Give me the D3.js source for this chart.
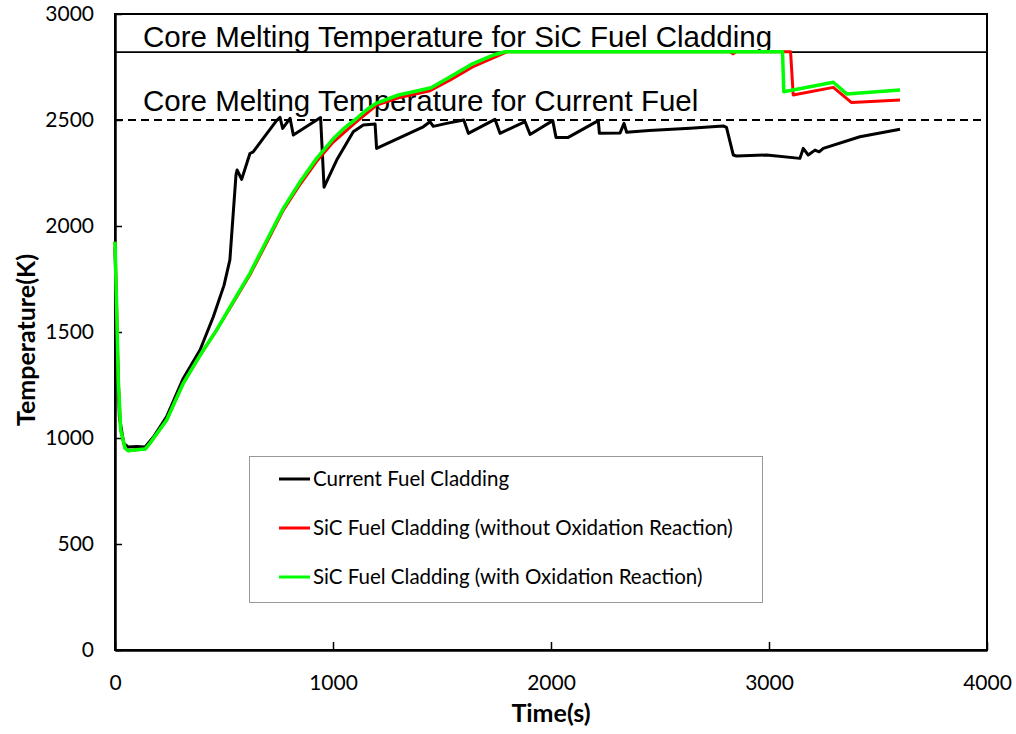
<!DOCTYPE html>
<html>
<head>
<meta charset="utf-8">
<style>
  body { margin: 0; background: #fff; }
  svg { display: block; }
  .tick text { font-family: Lato, "Open Sans", sans-serif; font-size: 21px; fill: #000; }
  .axis-title { font-family: Lato, "Open Sans", sans-serif; font-size: 25px; font-weight: bold; }
  .note { font-family: "Liberation Sans", Arial, sans-serif; font-size: 29.5px; }
  .legend text { font-family: Lato, "Open Sans", sans-serif; font-size: 20.5px; }
  .line { fill: none; stroke-linejoin: round; }
</style>
</head>
<body>
<script src="https://cdn.jsdelivr.net/npm/d3@7"></script>
<script>
// data
var currentTime = [0, 8, 20, 40, 60, 100, 138, 180, 237, 313, 390, 451, 500, 527, 555, 560, 581, 619, 634, 680, 741, 757, 769, 803, 818, 943, 959, 1017, 1093, 1139, 1193, 1200, 1414, 1445, 1460, 1521, 1600, 1621, 1743, 1766, 1881, 1904, 2008, 2023, 2079, 2217, 2222, 2317, 2335, 2347, 2450, 2638, 2790, 2805, 2836, 2851, 2989, 3142, 3157, 3180, 3211, 3230, 3249, 3417, 3601];
var currentTemp = [1900, 1500, 1100, 975, 958, 960, 958, 1010, 1101, 1281, 1415, 1572, 1720, 1840, 2241, 2264, 2220, 2342, 2350, 2413, 2497, 2512, 2460, 2508, 2429, 2512, 2183, 2311, 2445, 2476, 2481, 2366, 2468, 2492, 2470, 2484, 2500, 2437, 2503, 2437, 2492, 2432, 2497, 2418, 2418, 2497, 2437, 2439, 2484, 2442, 2450, 2461, 2472, 2465, 2335, 2330, 2335, 2319, 2366, 2335, 2358, 2350, 2366, 2421, 2456];

var noOxTime = [0, 8, 15, 26, 46, 60, 100, 138, 160, 237, 313, 390, 466, 540, 619, 700, 772, 850, 925, 1000, 1100, 1200, 1300, 1445, 1540, 1640, 1740, 1800, 2820, 2835, 2850, 3099, 3111, 3295, 3379, 3601];
var noOxTemp = [1926, 1600, 1274, 1038, 953, 940, 945, 948, 975, 1085, 1258, 1390, 1509, 1635, 1770, 1930, 2075, 2198, 2305, 2395, 2485, 2570, 2605, 2638, 2690, 2750, 2795, 2822, 2822, 2812, 2822, 2822, 2618, 2654, 2582, 2594];

var oxTime = [0, 8, 15, 26, 46, 60, 100, 138, 160, 237, 313, 390, 466, 540, 619, 700, 772, 850, 925, 1000, 1050, 1100, 1150, 1200, 1300, 1400, 1450, 1540, 1640, 1740, 1790, 3062, 3068, 3295, 3356, 3601];
var oxTemp = [1926, 1600, 1274, 1038, 953, 940, 945, 948, 975, 1085, 1258, 1390, 1509, 1640, 1777, 1940, 2083, 2210, 2319, 2410, 2460, 2500, 2545, 2580, 2618, 2640, 2652, 2705, 2765, 2808, 2822, 2822, 2633, 2678, 2623, 2642];

var seriesNames = ["Current Fuel Cladding", "SiC Fuel Cladding (without Oxidation Reaction)", "SiC Fuel Cladding (with Oxidation Reaction)"];
var seriesColors = ["#000000", "#ff0000", "#00ff00"];

var sicMelt = 2820, currentMelt = 2500;
var sicMeltLabel = "Core Melting Temperature for SiC Fuel Cladding";
var currentMeltLabel = "Core Melting Temperature for Current Fuel";

var xTicks = [0, 1000, 2000, 3000, 4000];
var yTicks = [0, 500, 1000, 1500, 2000, 2500, 3000];

// layout
var margin = { top: 14, right: 29, bottom: 84, left: 115 },
    width = 1016 - margin.left - margin.right,
    height = 734 - margin.top - margin.bottom;

var x = d3.scaleLinear().domain([0, 4000]).range([0, width]);
var y = d3.scaleLinear().domain([0, 3000]).range([height, 0]);

var svg = d3.select("body").append("svg")
    .attr("width", 1016)
    .attr("height", 734);

var g = svg.append("g")
    .attr("transform", "translate(" + margin.left + "," + margin.top + ")");

// frame
g.append("rect")
    .attr("width", width).attr("height", height)
    .attr("fill", "none").attr("stroke", "#000").attr("stroke-width", 2);

// melting lines + notes
g.append("line")
    .attr("x1", 0).attr("x2", width)
    .attr("y1", y(sicMelt)).attr("y2", y(sicMelt))
    .attr("stroke", "#000").attr("stroke-width", 1.8);
g.append("line")
    .attr("x1", 0).attr("x2", width)
    .attr("y1", y(currentMelt)).attr("y2", y(currentMelt))
    .attr("stroke", "#000").attr("stroke-width", 1.8)
    .attr("stroke-dasharray", "8,5");

g.append("text").attr("class", "note")
    .attr("x", 28).attr("y", y(sicMelt) - 5)
    .text(sicMeltLabel);
g.append("text").attr("class", "note")
    .attr("x", 28).attr("y", y(currentMelt) - 9)
    .text(currentMeltLabel);

// axes
var fmt = d3.format("d");
var xAxis = g.append("g")
    .attr("transform", "translate(0," + height + ")")
    .call(d3.axisBottom(x).tickValues(xTicks).tickFormat(fmt).tickSizeInner(-8).tickSizeOuter(0).tickPadding(25));
var yAxis = g.append("g")
    .call(d3.axisLeft(y).tickValues(yTicks).tickFormat(fmt).tickSizeInner(-7).tickSizeOuter(0).tickPadding(21));
[xAxis, yAxis].forEach(function (a) {
    a.select(".domain").attr("stroke-width", 2.5);
    a.selectAll(".tick line").attr("stroke-width", 1.5);
});

// series
function pairs(ts, vs) {
    return ts.map(function (t, i) { return { t: t, v: vs[i] }; });
}
var line = d3.line()
    .x(function (d) { return x(d.t); })
    .y(function (d) { return y(d.v); });

var series = [pairs(currentTime, currentTemp), pairs(noOxTime, noOxTemp), pairs(oxTime, oxTemp)];
var widths = [3, 3, 3.5];
series.forEach(function (s, i) {
    g.append("path")
        .datum(s)
        .attr("class", "line")
        .attr("d", line)
        .style("stroke", seriesColors[i])
        .style("stroke-width", widths[i]);
});

// axis titles
svg.append("text").attr("class", "axis-title")
    .attr("text-anchor", "middle")
    .attr("transform", "translate(35,340) rotate(-90)")
    .text("Temperature(K)");
svg.append("text").attr("class", "axis-title")
    .attr("text-anchor", "middle")
    .attr("x", 551).attr("y", 722)
    .text("Time(s)");

// legend
var legend = svg.append("g").attr("class", "legend");
legend.append("rect")
    .attr("x", 249.5).attr("y", 456.5).attr("width", 513).attr("height", 146)
    .attr("fill", "#fff").attr("stroke", "#999").attr("stroke-width", 1);
var items = legend.selectAll(".item")
    .data(seriesNames)
    .enter().append("g")
    .attr("class", "item")
    .attr("transform", function (d, i) { return "translate(279," + (479 + i * 49) + ")"; });
items.append("line")
    .attr("x1", 0).attr("x2", 31)
    .attr("stroke", function (d, i) { return seriesColors[i]; })
    .attr("stroke-width", 3);
items.append("text")
    .attr("x", 34).attr("dy", "0.35em")
    .text(function (d) { return d; });
</script>
</body>
</html>
